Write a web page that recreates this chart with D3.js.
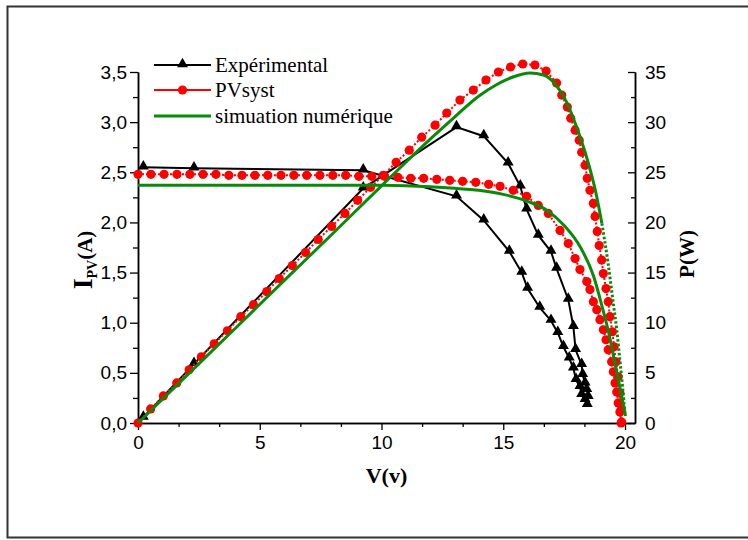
<!DOCTYPE html>
<html>
<head>
<meta charset="utf-8">
<script src="https://cdn.jsdelivr.net/npm/d3@7"></script>
<style>
  body { margin: 0; background: #fff; }
  svg { display: block; }
</style>
</head>
<body>
<svg id="chart"></svg>
<script>
// ---- data ----
// Expérimental (triangles)
const expIV = [0.22, 2.3, 9.25, 13.08, 14.2, 15.25, 15.76, 16.0, 16.5, 16.96, 17.24, 17.47, 17.71, 17.88, 17.99, 18.15, 18.22, 18.36, 18.45];
const expI = [2.55, 2.54, 2.52, 2.26, 2.02, 1.71, 1.50, 1.34, 1.15, 1.02, 0.90, 0.76, 0.645, 0.545, 0.43, 0.36, 0.28, 0.23, 0.18];
const expPV = [0.22, 2.3, 9.25, 13.08, 14.2, 15.2, 15.7, 15.96, 16.44, 16.96, 17.19, 17.67, 17.88, 17.97, 18.22, 18.26, 18.36, 18.43, 18.49];
const expP = [0.55, 5.9, 23.4, 29.5, 28.6, 25.9, 23.6, 21.3, 18.7, 17.1, 15.4, 12.3, 9.6, 7.3, 5.8, 4.8, 3.96, 3.3, 2.6];

// PVsyst (circles)
const pvIV = [0, 0.53, 1.07, 1.6, 2.13, 2.67, 3.2, 3.73, 4.27, 4.8, 5.33, 5.87, 6.4, 6.93, 7.47, 8.0, 8.53, 9.07, 9.6, 10.13,
  10.67, 11.2, 11.73, 12.27, 12.8, 13.33, 13.87, 14.4, 14.87, 15.41, 15.96, 16.44, 16.85, 17.33, 17.67, 17.95, 18.15, 18.43,
  18.56, 18.7, 18.84, 18.97, 19.11, 19.22, 19.31, 19.45, 19.52, 19.59, 19.66, 19.72, 19.79, 19.84];
const pvI = [2.48, 2.48, 2.48, 2.48, 2.48, 2.48, 2.48, 2.47, 2.47, 2.47, 2.47, 2.47, 2.47, 2.47, 2.47, 2.47, 2.47, 2.46, 2.46, 2.46,
  2.45, 2.44, 2.44, 2.43, 2.42, 2.41, 2.40, 2.38, 2.36, 2.32, 2.26, 2.17, 2.09, 1.92, 1.79, 1.64, 1.53, 1.41,
  1.33, 1.21, 1.13, 1.03, 0.93, 0.83, 0.73, 0.61, 0.51, 0.40, 0.31, 0.20, 0.11, 0.0];
const pvPV = [0, 0.52, 1.04, 1.59, 2.1, 2.6, 3.13, 3.67, 4.22, 4.74, 5.29, 5.8, 6.34, 6.88, 7.4, 7.95, 8.5, 9.02, 9.55, 10.07,
  10.6, 11.14, 11.65, 12.2, 12.68, 13.22, 13.77, 14.29, 14.8, 15.3, 15.8, 16.3, 16.76, 17.19, 17.4, 17.63, 17.77, 17.95,
  18.12, 18.22, 18.36, 18.45, 18.56, 18.7, 18.77, 18.86, 18.94, 19.04, 19.11, 19.22, 19.31, 19.38, 19.48, 19.55, 19.63,
  19.72, 19.79, 19.84, 19.86];
const pvP = [0, 1.4, 2.7, 4.0, 5.3, 6.6, 7.9, 9.2, 10.6, 11.8, 13.1, 14.4, 15.7, 17.0, 18.3, 19.6, 20.9, 22.2, 23.5, 24.7,
  26.0, 27.2, 28.5, 29.7, 30.9, 32.2, 33.2, 34.2, 35.0, 35.5, 35.8, 35.7, 35.1, 33.9, 32.7, 31.5, 30.4, 29.2,
  28.2, 27.0, 25.7, 24.4, 23.2, 21.9, 20.6, 19.1, 17.7, 16.25, 14.9, 13.4, 12.1, 10.6, 9.1, 7.6, 6.1,
  4.6, 3.0, 1.3, 0.1];

// simuation numérique (green lines)
const simIV = [0, 2, 4, 6, 8, 10, 11, 12, 13, 14, 15, 16, 16.8, 17.5, 18.15, 18.7, 19.05, 19.35, 19.6, 19.85, 20.02];
const simI = [2.37, 2.37, 2.37, 2.37, 2.37, 2.37, 2.365, 2.355, 2.34, 2.32, 2.28, 2.21, 2.12, 1.97, 1.76, 1.47, 1.17, 0.88, 0.58, 0.28, 0.07];
const simPV = [0, 2, 4, 6, 8, 10, 11, 12, 13, 14, 14.7, 15.4, 16.1, 16.65, 17.2, 17.6, 18.0, 18.4, 18.8, 19.05, 19.3, 19.52, 19.66, 19.8, 19.9, 20.0];
const simP = [0, 4.72, 9.45, 14.2, 18.9, 23.65, 26.0, 28.3, 30.5, 32.6, 33.7, 34.5, 34.9, 34.7, 33.6, 32.0, 29.6, 26.7, 23.0, 19.9, 16.0, 11.9, 9.3, 6.0, 3.6, 0.8];
const simDottedFrom = 19.05; // P curve is drawn dotted beyond this voltage

// axis ticks
const xTicks = [0, 5, 10, 15, 20];
const iTicks = [0, 0.5, 1, 1.5, 2, 2.5, 3, 3.5];
const pTicks = [0, 5, 10, 15, 20, 25, 30, 35];

const legendNames = ['Expérimental', 'PVsyst', 'simuation numérique'];

// ---- layout ----
const width = 748, height = 540;
const svg = d3.select('#chart').attr('width', width).attr('height', height);

const xScale = d3.scaleLinear().domain([0, 20.41]).range([138, 635]);
const yI = d3.scaleLinear().domain([0, 3.5]).range([423, 72]);
const yP = d3.scaleLinear().domain([0, 35]).range([423, 72]);

const green = '#0a8a0a';
const red = '#ff0000';
const tickFont = '"Liberation Sans", Arial, sans-serif';
const serif = '"Liberation Serif", "Times New Roman", serif';

// outer frame
svg.append('rect')
  .attr('x', 7.5).attr('y', 6.5)
  .attr('width', 800).attr('height', 531)
  .attr('fill', 'none')
  .attr('stroke', '#333')
  .attr('stroke-width', 2);

const comma = d => d3.format('.1f')(d).replace('.', ',');

// minor tick arrays
const xMinor = d3.range(0, 21).map(i => i * 5 / 3).filter(v => v <= 20.4 && !xTicks.some(t => Math.abs(t - v) < 1e-6));
const iMinor = d3.range(0.25, 3.5, 0.5);
const pMinor = d3.range(2.5, 35, 5);

function styleAxis(g) {
  g.select('.domain').attr('stroke', '#000').attr('stroke-width', 1.5);
  g.selectAll('.tick line').attr('stroke', '#000').attr('stroke-width', 1.3);
  g.selectAll('.tick text')
    .attr('fill', '#000')
    .style('font-family', tickFont)
    .style('font-size', '19px');
}

// bottom axis
svg.append('g')
  .attr('transform', `translate(0,${yI(0)})`)
  .call(d3.axisBottom(xScale).tickValues(xMinor).tickSize(4).tickSizeOuter(0).tickFormat(''))
  .call(styleAxis);
svg.append('g')
  .attr('transform', `translate(0,${yI(0)})`)
  .call(d3.axisBottom(xScale).tickValues(xTicks).tickSize(7).tickPadding(6).tickSizeOuter(0))
  .call(styleAxis);

// left axis
svg.append('g')
  .attr('transform', `translate(${xScale(0)},0)`)
  .call(d3.axisLeft(yI).tickValues(iMinor).tickSize(5).tickSizeOuter(0).tickFormat(''))
  .call(styleAxis);
svg.append('g')
  .attr('transform', `translate(${xScale(0)},0)`)
  .call(d3.axisLeft(yI).tickValues(iTicks).tickSize(8).tickPadding(3).tickSizeOuter(0).tickFormat(comma))
  .call(styleAxis);

// right axis (ticks inward)
svg.append('g')
  .attr('transform', `translate(${xScale.range()[1]},0)`)
  .call(d3.axisRight(yP).tickValues(pMinor).tickSize(-4).tickSizeOuter(0).tickFormat(''))
  .call(styleAxis);
svg.append('g')
  .attr('transform', `translate(${xScale.range()[1]},0)`)
  .call(d3.axisRight(yP).tickValues(pTicks).tickSize(-7).tickPadding(10).tickSizeOuter(0))
  .call(styleAxis);

// axis titles
svg.append('text')
  .attr('x', (xScale.range()[0] + xScale.range()[1]) / 2)
  .attr('y', 483)
  .attr('text-anchor', 'middle')
  .style('font-family', serif).style('font-weight', 'bold').style('font-size', '22px')
  .text('V(v)');

const iTitle = svg.append('text')
  .attr('transform', 'translate(92,260) rotate(-90)')
  .attr('text-anchor', 'middle')
  .style('font-family', serif).style('font-weight', 'bold');
iTitle.append('tspan').style('font-size', '28px').text('I');
iTitle.append('tspan').style('font-size', '14px').attr('dy', 5).text('PV');
iTitle.append('tspan').style('font-size', '21px').attr('dy', -5).text('(A)');

svg.append('text')
  .attr('transform', 'translate(694,254) rotate(-90)')
  .attr('text-anchor', 'middle')
  .style('font-family', serif).style('font-weight', 'bold').style('font-size', '21px')
  .text('P(W)');

// ---- series ----
const zip = (xs, ys) => xs.map((x, i) => ({ x, y: ys[i] }));
const lineI = d3.line().x(d => xScale(d.x)).y(d => yI(d.y));
const lineP = d3.line().x(d => xScale(d.x)).y(d => yP(d.y));
const triangle = d3.symbol().type(d3.symbolTriangle).size(52);

// Expérimental
[[zip(expIV, expI), lineI, yI], [zip(expPV, expP), lineP, yP]].forEach(([data, line, y]) => {
  svg.append('path').datum(data)
    .attr('fill', 'none').attr('stroke', '#000').attr('stroke-width', 2)
    .attr('d', line);
  svg.append('g').selectAll('path').data(data).enter().append('path')
    .attr('transform', d => `translate(${xScale(d.x)},${y(d.y) - 1})`)
    .attr('d', triangle)
    .attr('fill', '#000');
});

// PVsyst
[[zip(pvIV, pvI), lineI, yI], [zip(pvPV, pvP), lineP, yP]].forEach(([data, line, y]) => {
  svg.append('path').datum(data)
    .attr('fill', 'none').attr('stroke', red).attr('stroke-width', 2)
    .attr('stroke-dasharray', '2,2')
    .attr('d', line);
  svg.append('g').selectAll('circle').data(data).enter().append('circle')
    .attr('cx', d => xScale(d.x)).attr('cy', d => y(d.y))
    .attr('r', 4.6)
    .attr('fill', red);
});

// simulation
const simLineI = d3.line().curve(d3.curveMonotoneX).x(d => xScale(d.x)).y(d => yI(d.y));
const simLineP = d3.line().curve(d3.curveMonotoneX).x(d => xScale(d.x)).y(d => yP(d.y));
svg.append('path').datum(zip(simIV, simI))
  .attr('fill', 'none').attr('stroke', green).attr('stroke-width', 3)
  .attr('d', simLineI);
const simPts = zip(simPV, simP);
svg.append('path').datum(simPts.filter(d => d.x <= simDottedFrom))
  .attr('fill', 'none').attr('stroke', green).attr('stroke-width', 3)
  .attr('d', simLineP);
svg.append('path').datum(simPts.filter(d => d.x >= simDottedFrom))
  .attr('fill', 'none').attr('stroke', green).attr('stroke-width', 3)
  .attr('stroke-dasharray', '2.5,2')
  .attr('d', simLineP);

// ---- legend ----
const legend = svg.append('g').attr('transform', 'translate(154,0)');
const rows = legend.selectAll('g').data(legendNames).enter().append('g')
  .attr('transform', (d, i) => `translate(0,${[65, 90, 116][i]})`);
rows.append('line')
  .attr('x1', 0).attr('x2', 57).attr('y1', 0).attr('y2', 0)
  .attr('stroke', (d, i) => ['#000', red, green][i])
  .attr('stroke-width', (d, i) => i === 2 ? 3 : 2);
rows.filter((d, i) => i === 0).append('path')
  .attr('transform', 'translate(28.5,-1)').attr('d', triangle).attr('fill', '#000');
rows.filter((d, i) => i === 1).append('circle')
  .attr('cx', 28.5).attr('cy', 0).attr('r', 4.6).attr('fill', red);
rows.append('text')
  .attr('x', 61).attr('y', 7)
  .style('font-family', serif).style('font-size', '21px')
  .text(d => d);
</script>
</body>
</html>
